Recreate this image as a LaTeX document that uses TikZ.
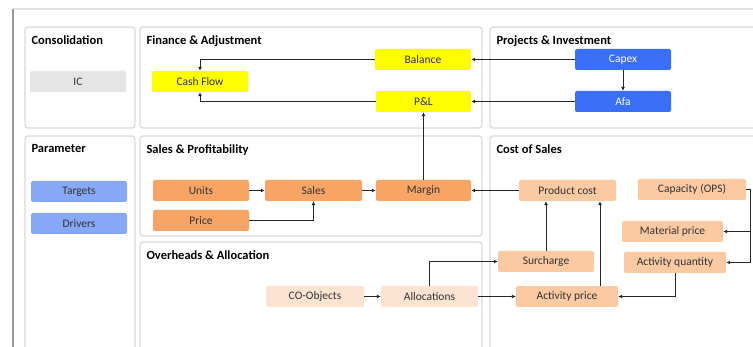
\documentclass[tikz,border=0pt]{standalone}
\usepackage{fontspec}
\setmainfont{Carlito}
\usetikzlibrary{arrows.meta}
\definecolor{yel}{HTML}{FFFF00}
\definecolor{blu}{HTML}{3A6FF7}
\definecolor{lblu}{HTML}{86A8F6}
\definecolor{org}{HTML}{F8A464}
\definecolor{lorg}{HTML}{FBC9A2}
\definecolor{porg}{HTML}{FDE3D1}
\definecolor{frame}{HTML}{DADADA}
\begin{document}
\begin{tikzpicture}[x = {(1pt,0)},y = {(0,-1pt)},
        every node/.style = {font = {\fontsize{11.5}{13}\selectfont}},
        box/.style = {rounded corners = 2pt,minimum height = 21pt,inner sep = 0pt,text = black!80},
        title/.style = {anchor = north west,font = {\fontsize{12.5}{14}\selectfont\bfseries}},
        arr/.style = {draw = black!85,line width = 0.8pt,-{Latex[length = 4pt,width = 4pt]}}]
        \clip (0,0) rectangle (753,347);
        \fill[white] (0,0) rectangle (753,347);
        \draw[black!12,line width = 2pt] (13,9) -- (760,9);
        \draw[black!40,line width = 2pt] (13,9) -- (13,360);
        \foreach \x/\y/\u/\v/\t in {25/27/135/128/Consolidation,140/27/482/128/Finance \& Adjustment,490/27/770/128/Projects \& Investment,25/136/135/360/Parameter,140/136/482/236/Sales \& Profitability,140/242/482/360/Overheads \& Allocation,490/136/770/360/Cost of Sales}
            {\draw[frame,line width = 1.2pt,rounded corners = 3pt] (\x,\y) rectangle (\u,\v);
             \node[title] at (\x+3,\y+5) {\t};}

        \node[box,fill = black!10,minimum width = 96pt] (ic) at (78,81.5) {IC};
        \node[box,fill = yel,minimum width = 96pt] (cash) at (200,81.5) {Cash Flow};
        \node[box,fill = yel,minimum width = 96pt] (bal) at (423,59.5) {Balance};
        \node[box,fill = yel,minimum width = 95pt] (pl) at (423.5,101.5) {P\&L};
        \node[box,fill = blu,text = white,minimum width = 96pt] (capex) at (623,59.5) {Capex};
        \node[box,fill = blu,text = white,minimum width = 96pt] (afa) at (623,101.5) {Afa};

        \node[box,fill = lblu,minimum width = 96pt] (targets) at (79,191.5) {Targets};
        \node[box,fill = lblu,minimum width = 96pt] (drivers) at (79,223.5) {Drivers};

        \node[box,fill = org,minimum width = 96pt] (units) at (201,190.5) {Units};
        \node[box,fill = org,minimum width = 97pt] (sales) at (313.5,190.5) {Sales};
        \node[box,fill = org,minimum width = 95pt] (margin) at (423.5,190.5) {Margin};
        \node[box,fill = org,minimum width = 96pt] (price) at (201,220.5) {Price};

        \node[box,fill = lorg,minimum width = 97pt] (pcost) at (567.5,190.5) {Product cost};
        \node[box,fill = lorg,minimum width = 108pt] (cap) at (692,189.5) {Capacity (OPS)};
        \node[box,fill = lorg,minimum width = 101pt] (matp) at (672.5,231.5) {Material price};
        \node[box,fill = lorg,minimum width = 96pt] (surch) at (546,261.5) {Surcharge};
        \node[box,fill = lorg,minimum width = 102pt] (actq) at (675,262.5) {Activity quantity};
        \node[box,fill = lorg,minimum width = 102pt] (actp) at (567,296.5) {Activity price};

        \node[box,fill = porg,minimum width = 98pt] (coobj) at (315,296.5) {CO-Objects};
        \node[box,fill = porg,minimum width = 97pt] (alloc) at (429.5,296.5) {Allocations};

        \draw[arr] (bal.west) -| (cash.north);
        \draw[arr] (pl.west) -| (cash.south);
        \draw[arr] (capex.west) -- (bal.east);
        \draw[arr] (afa.west) -- (pl.east);
        \draw[arr] (capex) -- (afa);
        \draw[arr] (margin) -- (pl);
        \draw[arr] (units) -- (sales);
        \draw[arr] (sales) -- (margin);
        \draw[arr] (price.east) -| (sales.south);
        \draw[arr] (pcost) -- (margin);
        \draw[arr] (surch.north) -- (surch.north |- pcost.south);
        \draw[arr] ([xshift = 33pt]actp.north) -- ([xshift = 33pt]actp.north |- pcost.south);
        \coordinate (bus) at (750,189.5);
        \draw[arr] (cap.east) -- (bus) |- (matp.east);
        \draw[arr] (bus) |- (actq.east);
        \draw[arr] (actq.south) |- (actp.east);
        \draw[arr] (coobj) -- (alloc);
        \draw[arr] (alloc) -- (actp);
        \draw[arr] (alloc.north) |- (surch.west);
    \end{tikzpicture}
\end{document}
